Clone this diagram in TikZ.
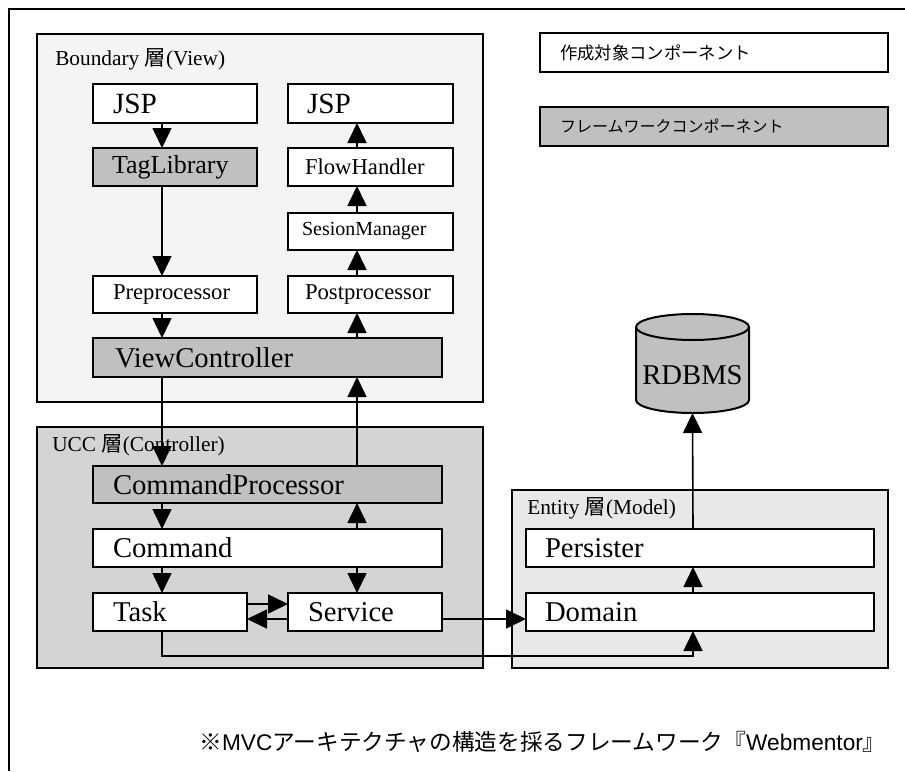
\documentclass[tikz,border=0pt]{standalone}
\usepackage{fontspec}
\setmainfont{Liberation Serif}
\newfontfamily\jp{Noto Sans CJK JP}
\newfontfamily\lsans{Liberation Sans}
\usetikzlibrary{arrows.meta}
\definecolor{viewbg}{RGB}{244,244,244}
\definecolor{ctrlbg}{RGB}{212,212,212}
\definecolor{modelbg}{RGB}{232,232,232}
\definecolor{fwgray}{RGB}{192,192,192}
\begin{document}
\begin{tikzpicture}[x=0.75pt,y=-0.75pt,
  layer/.style={draw, line width=1.5pt},
  comp/.style={draw, line width=1.5pt, fill=white, anchor=north west,
    inner ysep=0pt, outer sep=0pt, align=left, font=\fontsize{21.5}{24}\selectfont},
  fw/.style={comp, fill=fwgray},
  conn/.style={line width=1.2pt, -{Triangle[length=15pt,width=14.25pt]}},
  plain/.style={line width=1.2pt},
  lbl/.style={anchor=west, inner sep=0pt, font=\fontsize{16}{19}\selectfont}]
\useasboundingbox (0,0) rectangle (905,771);

% outer frame
\draw[line width=2pt] (9,771) -- (9,9) -- (905,9);

% layers
\draw[layer, fill=viewbg] (37,34) rectangle (483,402);
\draw[layer, fill=ctrlbg] (37,427) rectangle (483,668);
\draw[layer, fill=modelbg] (512,490) rectangle (888,668);
\node[lbl] (lview) at (55,59) {Boundary {\jp 層}(View)};
\node[lbl] (lctrl) at (52,445) {UCC {\jp 層}(Controller)};
\node[lbl] (lmodel) at (527,508) {Entity {\jp 層}(Model)};

% legend
\node[comp, minimum height=29.25pt, inner xsep=15pt, text width=231pt,
  font=\jp\fontsize{13}{15}\selectfont] (legA) at (540,33) {作成対象コンポーネント};
\node[fw, minimum height=29.25pt, inner xsep=15pt, text width=231pt,
  font=\jp\fontsize{12}{14}\selectfont] (legB) at (540,107) {フレームワークコンポーネント};

% view layer components
\node[comp, minimum height=29.25pt, inner xsep=15pt, text width=93pt,
  font=\fontsize{22}{24}\selectfont] (jspA) at (93,84) {JSP};
\node[fw, minimum height=28.5pt, inner xsep=14.25pt, text width=94.5pt,
  font=\fontsize{19.5}{22}\selectfont] (tag) at (93,148) {TagLibrary};
\node[comp, minimum height=27.75pt, inner xsep=15pt, text width=93pt,
  font=\fontsize{17}{19}\selectfont] (pre) at (93,276) {Preprocessor};
\node[fw, minimum height=29.25pt, inner xsep=16.5pt, text width=228.75pt] (vc) at (93,338) {ViewController};
\node[comp, minimum height=29.25pt, inner xsep=14.25pt, text width=95.25pt,
  font=\fontsize{22}{24}\selectfont] (jspB) at (288,84) {JSP};
\node[comp, minimum height=28.5pt, inner xsep=12.75pt, text width=98.25pt,
  font=\fontsize{17}{19}\selectfont] (fh) at (288,148) {FlowHandler};
\node[comp, minimum height=27.75pt, inner xsep=10.5pt, text width=102.75pt,
  font=\fontsize{15}{17}\selectfont] (sm) at (288,213) {SesionManager};
\node[comp, minimum height=27.75pt, inner xsep=12.75pt, text width=98.25pt,
  font=\fontsize{17}{19}\selectfont] (post) at (288,276) {Postprocessor};

% controller layer components
\node[fw, minimum height=27.75pt, inner xsep=15pt, text width=231.75pt] (cp) at (93,466) {CommandProcessor};
\node[comp, minimum height=28.5pt, inner xsep=15pt, text width=231.75pt] (cmd) at (93,529) {Command};
\node[comp, minimum height=28.5pt, inner xsep=15pt, text width=85.5pt] (task) at (93,593) {Task};
\node[comp, minimum height=28.5pt, inner xsep=15pt, text width=85.5pt] (svc) at (288,593) {Service};

% model layer components
\node[comp, minimum height=28.5pt, inner xsep=14.25pt, text width=232.5pt] (pers) at (526,529) {Persister};
\node[comp, minimum height=28.5pt, inner xsep=14.25pt, text width=232.5pt] (dom) at (526,593) {Domain};

% database cylinder
\fill[fwgray] (636,327) -- (636,400) arc(180:0:56.5 and 13) -- (749,327) arc(0:-180:56.5 and 13) -- cycle;
\draw[line width=1.5pt] (636,327) -- (636,400) arc(180:0:56.5 and 13) -- (749,327);
\draw[line width=1.5pt] (692.5,327) ellipse (56.5 and 13);
\node[font=\fontsize{21.5}{24}\selectfont] (db) at (692.5,375) {RDBMS};
\coordinate (dbb) at (692.5,413);

% connector columns and rows
\coordinate (cL) at (162,0);
\coordinate (cR) at (357,0);
\coordinate (cE) at (693,0);
\coordinate (r1) at (0,604);
\coordinate (r2) at (0,619);
\coordinate (r3) at (0,656);

% request path
\draw[conn] (jspA.south -| cL) -- (tag.north -| cL);
\draw[conn] (tag.south -| cL) -- (pre.north -| cL);
\draw[conn] (pre.south -| cL) -- (vc.north -| cL);
\draw[conn] (vc.south -| cL) -- (cp.north -| cL);
\draw[conn] (cp.south -| cL) -- (cmd.north -| cL);
\draw[conn] (cmd.south -| cL) -- (task.north -| cL);

% response path
\draw[conn] (cmd.south -| cR) -- (svc.north -| cR);
\draw[conn] (cmd.north -| cR) -- (cp.south -| cR);
\draw[conn] (cp.north -| cR) -- (vc.south -| cR);
\draw[conn] (vc.north -| cR) -- (post.south -| cR);
\draw[conn] (post.north -| cR) -- (sm.south -| cR);
\draw[conn] (sm.north -| cR) -- (fh.south -| cR);
\draw[conn] (fh.north -| cR) -- (jspB.south -| cR);

% task / service / model
\draw[conn] (task.east |- r1) -- (svc.west |- r1);
\draw[conn] (svc.west |- r2) -- (task.east |- r2);
\draw[conn] (svc.east |- r2) -- (dom.west |- r2);
\draw[conn] (task.south -| cL) -- (cL |- r3) -| (dom.south -| cE);
\draw[conn] (dom.north -| cE) -- (pers.south -| cE);
\draw[conn] (pers.north -| cE) -- (dbb);

% caption
\node[font=\jp\fontsize{17}{20}\selectfont] (cap) at (542.5,742)
  {※{\lsans MVC}アーキテクチャの構造を採るフレームワーク『{\lsans Webmentor}』};
\end{tikzpicture}
\end{document}
